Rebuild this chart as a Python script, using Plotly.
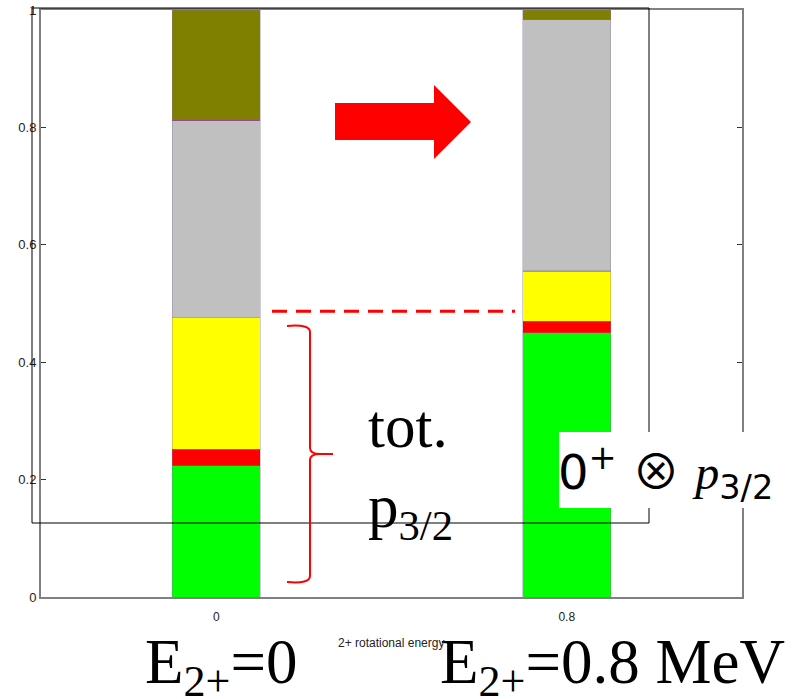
import plotly.graph_objects as go

# ---- data ----
energies = [0, 0.8]
tick_labels = ["0", "0.8"]
green_vals = [0.224, 0.450]
red_vals = [0.028, 0.020]
yellow_vals = [0.224, 0.084]
cyan_vals = [0.000, 0.002]
gray_vals = [0.335, 0.427]
magenta_vals = [0.003, 0.000]
olive_vals = [0.186, 0.017]
dashed_level = 0.487

series = [
    ("green", green_vals, "#00ff00"),
    ("red", red_vals, "#ff0000"),
    ("yellow", yellow_vals, "#ffff00"),
    ("cyan", cyan_vals, "#40e0d0"),
    ("gray", gray_vals, "#c0c0c0"),
    ("magenta", magenta_vals, "#a0308a"),
    ("olive", olive_vals, "#808000"),
]

W, H = 799, 699
L, R, T, B = 41, 57, 10, 102
X0, X1 = -0.4, 1.2
PW, PH = W - L - R, H - T - B


def px2x(px):
    return (px - L) / PW * (X1 - X0) + X0


def py2y(py):
    return (H - B - py) / PH


def px2p(px):
    return (px - L) / PW


def py2p(py):
    return (H - B - py) / PH


fig = go.Figure()
for name, vals, col in series:
    fig.add_trace(go.Bar(
        x=energies, y=vals, name=name, width=0.2,
        marker=dict(color=col, line=dict(color="rgba(130,120,150,0.6)", width=0.6)),
        showlegend=False,
    ))

shapes = []
# overlay frame
shapes.append(dict(type="rect", xref="paper", yref="paper",
                   x0=px2p(32), x1=px2p(649), y0=py2p(523), y1=py2p(8),
                   line=dict(color="black", width=1), layer="above"))
# dashed red line
shapes.append(dict(type="line", xref="x", yref="y",
                   x0=px2x(272), x1=px2x(515), y0=dashed_level, y1=dashed_level,
                   line=dict(color="#ff0000", width=3, dash="15px,9px"), layer="above"))


def pt(px, py):
    return f"{px2x(px):.5f},{py2y(py):.5f}"


# arrow
arrow_pts = [(335, 103), (434, 103), (434, 85), (471, 122), (434, 159), (434, 140), (335, 140)]
path = "M " + " L ".join(pt(a, b) for a, b in arrow_pts) + " Z"
shapes.append(dict(type="path", xref="x", yref="y", path=path,
                   fillcolor="#ff0000", line=dict(color="#ff0000", width=0), layer="above"))

# brace
brace = ("M " + pt(287, 326) + " Q " + pt(310, 324) + " " + pt(310, 332) +
         " L " + pt(310, 448) + " Q " + pt(310, 454) + " " + pt(320, 454) +
         " L " + pt(333, 454) + " M " + pt(320, 454) + " Q " + pt(310, 454) + " " + pt(310, 460) +
         " L " + pt(310, 576) + " Q " + pt(310, 584) + " " + pt(287, 582))
shapes.append(dict(type="path", xref="x", yref="y", path=brace,
                   line=dict(color="#ff0000", width=2), layer="above"))

# white box behind 0+ x p3/2
shapes.append(dict(type="rect", xref="paper", yref="paper",
                   x0=px2p(559), x1=px2p(799), y0=py2p(508), y1=py2p(432),
                   fillcolor="white", line=dict(width=0), layer="above"))

serif = "Liberation Serif, Times New Roman, serif"
annotations = [
    dict(xref="paper", yref="paper", x=px2p(366), y=py2p(462), xanchor="left", yanchor="bottom",
         text="tot.", showarrow=False, font=dict(family=serif, size=61, color="black")),
    dict(xref="paper", yref="paper", x=px2p(366), y=py2p(551), xanchor="left", yanchor="bottom",
         text="p<sub>3/2</sub>", showarrow=False, font=dict(family=serif, size=61, color="black")),
    dict(xref="paper", yref="paper", x=px2p(556), y=py2p(470), xanchor="left", yanchor="middle",
         text="0<sup>+</sup> <span style=\"font-family:'Noto Sans CJK SC'\">⊗</span> "
              "<span style=\"font-family:'Liberation Serif'\"><i>p</i></span><sub>3/2</sub>",
         showarrow=False, font=dict(family="DejaVu Sans", size=48, color="black")),
    dict(xref="paper", yref="paper", x=px2p(143), y=py2p(708), xanchor="left", yanchor="bottom",
         text="E<sub>2+</sub>=0", showarrow=False, font=dict(family=serif, size=63, color="black")),
    dict(xref="paper", yref="paper", x=px2p(438), y=py2p(708), xanchor="left", yanchor="bottom",
         text="E<sub>2+</sub>=0.8 MeV", showarrow=False, font=dict(family=serif, size=63, color="black")),
    dict(xref="paper", yref="paper", x=px2p(391), y=py2p(643), xanchor="center", yanchor="middle",
         text="2+ rotational energy", showarrow=False,
         font=dict(family="Liberation Sans, Arial", size=12, color="#222")),
]

fig.update_layout(
    width=W, height=H,
    margin=dict(l=L, r=R, t=T, b=B, autoexpand=False),
    paper_bgcolor="white", plot_bgcolor="white",
    barmode="stack",
    shapes=shapes, annotations=annotations,
    font=dict(family="Liberation Sans, Arial", size=12, color="#222"),
    xaxis=dict(range=[X0, X1], tickvals=energies, ticktext=tick_labels, automargin=False,
               showgrid=False, zeroline=False, showline=True, mirror=True,
               linecolor="#808080", linewidth=2, ticks="", ticklabelstandoff=8,
               tickfont=dict(size=12, color="#222")),
    yaxis=dict(range=[0, 1], tickvals=[0, 0.2, 0.4, 0.6, 0.8, 1], automargin=False,
               ticktext=["0", "0.2", "0.4", "0.6", "0.8", "1"],
               showgrid=False, zeroline=False, showline=True, mirror="ticks",
               linecolor="#808080", linewidth=2, ticks="inside", ticklen=5,
               tickcolor="#333", tickfont=dict(size=13, color="#222")),
)

fig.write_html("out.html")
